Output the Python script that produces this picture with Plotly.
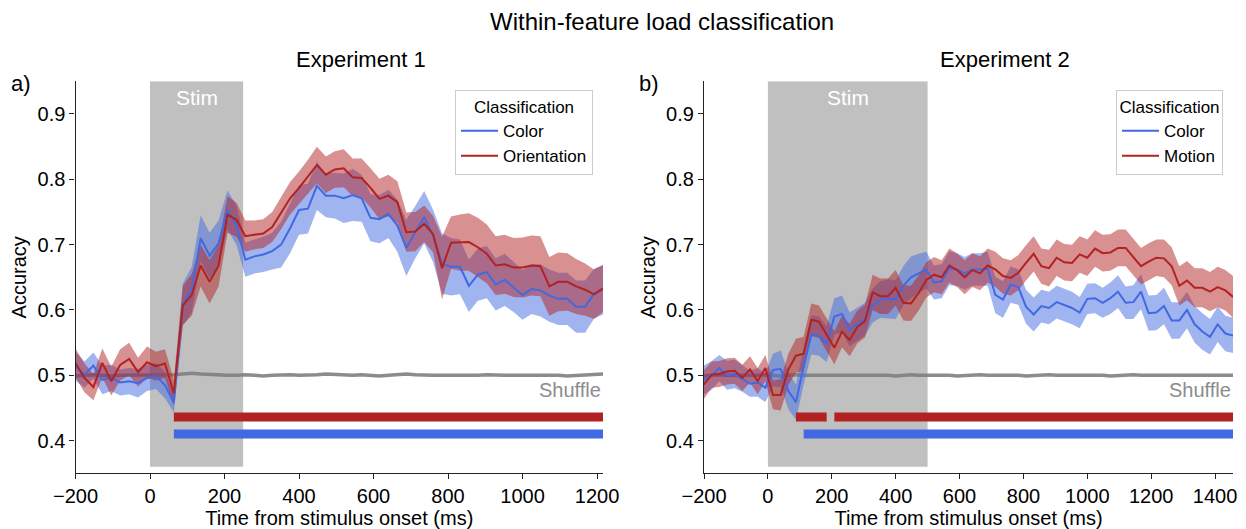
import plotly.graph_objects as go

# ---------------- data ----------------
time_exp1 = list(range(-200, 1217, 24))   # 60 samples
time_exp2 = list(range(-200, 1457, 24))   # 70 samples

exp1_color = [0.514, 0.501, 0.515, 0.493, 0.496, 0.489, 0.491, 0.488, 0.496, 0.499,
              0.485, 0.458, 0.608, 0.631, 0.710, 0.683, 0.702, 0.753, 0.730, 0.677,
              0.682, 0.685, 0.690, 0.700, 0.725, 0.753, 0.755, 0.790, 0.775, 0.775,
              0.771, 0.776, 0.771, 0.741, 0.739, 0.747, 0.729, 0.695, 0.719, 0.742,
              0.713, 0.671, 0.666, 0.666, 0.637, 0.654, 0.658, 0.639, 0.646, 0.635,
              0.623, 0.632, 0.630, 0.622, 0.617, 0.617, 0.605, 0.605, 0.625, 0.631]
exp1_color_err = [0.022, 0.020, 0.020, 0.022, 0.020, 0.020, 0.020, 0.022, 0.020, 0.020,
                  0.020, 0.015, 0.032, 0.035, 0.035, 0.035, 0.035, 0.030, 0.030, 0.026,
                  0.026, 0.027, 0.028, 0.035, 0.038, 0.038, 0.038, 0.037, 0.033, 0.035,
                  0.038, 0.040, 0.036, 0.036, 0.037, 0.037, 0.040, 0.043, 0.040, 0.040,
                  0.040, 0.046, 0.044, 0.042, 0.040, 0.040, 0.040, 0.040, 0.040, 0.038,
                  0.038, 0.038, 0.040, 0.040, 0.040, 0.040, 0.040, 0.040, 0.038, 0.038]

exp1_orient = [0.519, 0.496, 0.482, 0.519, 0.491, 0.516, 0.525, 0.505, 0.520, 0.514,
               0.518, 0.473, 0.607, 0.623, 0.668, 0.643, 0.668, 0.746, 0.738, 0.713,
               0.715, 0.717, 0.727, 0.748, 0.771, 0.787, 0.804, 0.822, 0.807, 0.815,
               0.817, 0.803, 0.802, 0.787, 0.770, 0.775, 0.765, 0.719, 0.720, 0.732,
               0.716, 0.664, 0.703, 0.703, 0.704, 0.696, 0.686, 0.668, 0.670, 0.665,
               0.665, 0.668, 0.667, 0.636, 0.643, 0.643, 0.636, 0.631, 0.624, 0.633]
exp1_orient_err = [0.022, 0.022, 0.020, 0.022, 0.022, 0.024, 0.025, 0.022, 0.024, 0.022,
                   0.022, 0.020, 0.030, 0.032, 0.032, 0.033, 0.032, 0.028, 0.026, 0.024,
                   0.022, 0.022, 0.023, 0.024, 0.025, 0.025, 0.026, 0.028, 0.028, 0.028,
                   0.029, 0.029, 0.030, 0.030, 0.031, 0.032, 0.032, 0.030, 0.030, 0.028,
                   0.028, 0.048, 0.040, 0.043, 0.044, 0.045, 0.045, 0.045, 0.045, 0.045,
                   0.046, 0.046, 0.046, 0.045, 0.045, 0.044, 0.042, 0.040, 0.038, 0.036]

exp1_shuffle = [0.499, 0.500, 0.501, 0.500, 0.499, 0.500, 0.500, 0.501, 0.500, 0.500,
                0.500, 0.501, 0.502, 0.503, 0.502, 0.501, 0.500, 0.500, 0.500, 0.501,
                0.500, 0.499, 0.500, 0.501, 0.501, 0.500, 0.500, 0.501, 0.502, 0.501,
                0.500, 0.500, 0.501, 0.500, 0.499, 0.500, 0.501, 0.502, 0.501, 0.500,
                0.500, 0.500, 0.500, 0.499, 0.500, 0.500, 0.501, 0.500, 0.500, 0.500,
                0.500, 0.501, 0.500, 0.500, 0.500, 0.499, 0.500, 0.500, 0.501, 0.502]

exp2_color = [0.493, 0.500, 0.511, 0.500, 0.502, 0.495, 0.487, 0.489, 0.481, 0.508,
              0.510, 0.476, 0.459, 0.514, 0.562, 0.560, 0.548, 0.590, 0.594, 0.570,
              0.578, 0.586, 0.607, 0.616, 0.617, 0.616, 0.637, 0.650, 0.656, 0.661,
              0.642, 0.644, 0.664, 0.662, 0.656, 0.662, 0.662, 0.663, 0.623, 0.616,
              0.639, 0.635, 0.605, 0.593, 0.606, 0.603, 0.612, 0.608, 0.603, 0.596,
              0.617, 0.618, 0.611, 0.618, 0.628, 0.611, 0.612, 0.628, 0.595, 0.596,
              0.606, 0.584, 0.584, 0.600, 0.578, 0.567, 0.559, 0.578, 0.564, 0.561]
exp2_color_err = [0.022, 0.022, 0.020, 0.022, 0.022, 0.020, 0.020, 0.022, 0.022, 0.025,
                  0.028, 0.028, 0.027, 0.028, 0.030, 0.030, 0.028, 0.028, 0.028, 0.026,
                  0.025, 0.025, 0.026, 0.028, 0.030, 0.030, 0.030, 0.032, 0.030, 0.028,
                  0.026, 0.026, 0.026, 0.025, 0.025, 0.025, 0.025, 0.026, 0.028, 0.028,
                  0.028, 0.027, 0.026, 0.026, 0.025, 0.025, 0.025, 0.025, 0.025, 0.024,
                  0.023, 0.023, 0.023, 0.024, 0.025, 0.025, 0.026, 0.027, 0.027, 0.027,
                  0.028, 0.028, 0.028, 0.028, 0.028, 0.028, 0.027, 0.027, 0.027, 0.027]

exp2_motion = [0.486, 0.501, 0.502, 0.506, 0.507, 0.496, 0.509, 0.491, 0.511, 0.470,
               0.470, 0.509, 0.530, 0.533, 0.585, 0.582, 0.562, 0.542, 0.567, 0.554,
               0.574, 0.583, 0.627, 0.621, 0.621, 0.634, 0.611, 0.610, 0.626, 0.646,
               0.654, 0.650, 0.668, 0.661, 0.650, 0.661, 0.656, 0.668, 0.662, 0.652,
               0.649, 0.657, 0.672, 0.686, 0.667, 0.664, 0.680, 0.673, 0.672, 0.685,
               0.680, 0.694, 0.687, 0.688, 0.695, 0.695, 0.681, 0.667, 0.674, 0.680,
               0.679, 0.667, 0.637, 0.645, 0.634, 0.634, 0.628, 0.635, 0.630, 0.620]
exp2_motion_err = [0.022, 0.020, 0.020, 0.020, 0.020, 0.020, 0.020, 0.020, 0.020, 0.022,
                   0.024, 0.024, 0.026, 0.026, 0.025, 0.025, 0.025, 0.025, 0.024, 0.025,
                   0.025, 0.025, 0.027, 0.027, 0.027, 0.027, 0.027, 0.027, 0.027, 0.027,
                   0.027, 0.026, 0.026, 0.026, 0.026, 0.026, 0.026, 0.026, 0.027, 0.027,
                   0.027, 0.027, 0.027, 0.027, 0.027, 0.028, 0.028, 0.028, 0.028, 0.028,
                   0.028, 0.028, 0.028, 0.028, 0.028, 0.028, 0.028, 0.028, 0.028, 0.028,
                   0.029, 0.029, 0.030, 0.030, 0.030, 0.030, 0.030, 0.031, 0.031, 0.032]

exp2_shuffle = [0.499, 0.500, 0.501, 0.500, 0.500, 0.499, 0.500, 0.500, 0.501, 0.500,
                0.499, 0.500, 0.501, 0.500, 0.500, 0.501, 0.501, 0.500, 0.500, 0.501,
                0.500, 0.500, 0.501, 0.500, 0.500, 0.499, 0.500, 0.501, 0.500, 0.500,
                0.501, 0.500, 0.500, 0.499, 0.500, 0.500, 0.501, 0.500, 0.500, 0.500,
                0.501, 0.500, 0.499, 0.500, 0.500, 0.501, 0.500, 0.500, 0.500, 0.500,
                0.501, 0.500, 0.500, 0.499, 0.500, 0.500, 0.501, 0.500, 0.500, 0.501,
                0.500, 0.500, 0.500, 0.501, 0.500, 0.500, 0.500, 0.501, 0.500, 0.500]

stim_exp1 = [0, 250]
stim_exp2 = [0, 500]

sig_exp1_orient = [(64, 1216)]
sig_exp1_color = [(64, 1216)]
sig_exp2_motion = [(88, 184), (208, 1456)]
sig_exp2_color = [(112, 1456)]
sig_level_red = 0.436
sig_level_blue = 0.410

yticks = [0.4, 0.5, 0.6, 0.7, 0.8, 0.9]
xticks1 = [-200, 0, 200, 400, 600, 800, 1000, 1200]
xticks2 = [-200, 0, 200, 400, 600, 800, 1000, 1200, 1400]

# ---------------- style ----------------
BLUE = "#4169E1"
RED = "#B22222"
BLUE_FILL = "rgba(65,105,225,0.5)"
RED_FILL = "rgba(178,34,34,0.5)"
FONT = "Liberation Sans, Arial, sans-serif"
W, H = 1246, 529


def px_x(p):
    return p / W


def px_y(p):
    return 1 - p / H


fig = go.Figure()


def add_panel(xa, ya, t, c, ce, r, re, shuf, sig_r, sig_b, red_name, legend):
    fig.add_trace(go.Scatter(x=t, y=shuf, mode="lines", line=dict(color="rgba(128,128,128,0.9)", width=3.5),
                             xaxis=xa, yaxis=ya, showlegend=False, hoverinfo="skip"))
    for mean, err, fill in ((c, ce, BLUE_FILL), (r, re, RED_FILL)):
        up = [m + e for m, e in zip(mean, err)]
        lo = [m - e for m, e in zip(mean, err)]
        fig.add_trace(go.Scatter(x=t + t[::-1], y=up + lo[::-1], fill="toself", fillcolor=fill,
                                 line=dict(width=0), mode="lines", xaxis=xa, yaxis=ya,
                                 showlegend=False, hoverinfo="skip"))
    fig.add_trace(go.Scatter(x=t, y=c, mode="lines", line=dict(color=BLUE, width=2), name="Color",
                             xaxis=xa, yaxis=ya, legend=legend))
    fig.add_trace(go.Scatter(x=t, y=r, mode="lines", line=dict(color=RED, width=2), name=red_name,
                             xaxis=xa, yaxis=ya, legend=legend))
    for segs, lvl, col in ((sig_r, sig_level_red, RED), (sig_b, sig_level_blue, BLUE)):
        xs, ys = [], []
        for a, b in segs:
            xs += [a, b, None]
            ys += [lvl, lvl, None]
        fig.add_trace(go.Scatter(x=xs, y=ys, mode="lines", line=dict(color=col, width=9),
                                 xaxis=xa, yaxis=ya, showlegend=False, hoverinfo="skip"))


add_panel("x", "y", time_exp1, exp1_color, exp1_color_err, exp1_orient, exp1_orient_err,
          exp1_shuffle, sig_exp1_orient, sig_exp1_color, "Orientation", "legend")
add_panel("x2", "y2", time_exp2, exp2_color, exp2_color_err, exp2_motion, exp2_motion_err,
          exp2_shuffle, sig_exp2_motion, sig_exp2_color, "Motion", "legend2")

for xr, yr, st in (("x", "y", stim_exp1), ("x2", "y2", stim_exp2)):
    fig.add_shape(type="rect", xref=xr, yref=yr, x0=st[0], x1=st[1], y0=0.36, y1=0.95,
                  fillcolor="#C0C0C0", line=dict(width=0), layer="below")
    fig.add_annotation(xref=xr, yref=yr, x=(st[0] + st[1]) / 2, y=0.925, text="Stim", showarrow=False,
                       xanchor="center", yanchor="middle",
                       font=dict(family=FONT, size=21, color="white"))

fig.add_annotation(xref="x", yref="y", x=time_exp1[-1], y=0.478, text="Shuffle", showarrow=False,
                   xanchor="right", yanchor="middle", font=dict(family=FONT, size=20, color="#8c8c8c"))
fig.add_annotation(xref="x2", yref="y2", x=time_exp2[-1], y=0.478, text="Shuffle", showarrow=False,
                   xanchor="right", yanchor="middle", font=dict(family=FONT, size=20, color="#8c8c8c"))

axis_common = dict(showline=True, linecolor="#222222", linewidth=1.2, ticks="outside", ticklen=5,
                   tickwidth=1.2, tickcolor="#222222", showgrid=False, zeroline=False, automargin=False,
                   tickfont=dict(family=FONT, size=20, color="black"))

y_dom = [px_y(473.3), px_y(81.3)]
fig.update_layout(
    width=W, height=H, margin=dict(l=0, r=0, t=0, b=0, autoexpand=False),
    paper_bgcolor="white", plot_bgcolor="white",
    xaxis=dict(domain=[px_x(75.5), px_x(603)], range=[-200, 1216], tickvals=xticks1, anchor="y",
               title=dict(text="Time from stimulus onset (ms)", standoff=5,
                          font=dict(family=FONT, size=20, color="black")), **axis_common),
    yaxis=dict(domain=y_dom, range=[0.35, 0.95], tickvals=yticks, tickformat=".1f", anchor="x",
               title=dict(text="Accuracy", standoff=5, font=dict(family=FONT, size=20, color="black")),
               **axis_common),
    xaxis2=dict(domain=[px_x(704), px_x(1233)], range=[-200, 1456], tickvals=xticks2, anchor="y2",
                title=dict(text="Time from stimulus onset (ms)", standoff=5,
                           font=dict(family=FONT, size=20, color="black")), **axis_common),
    yaxis2=dict(domain=y_dom, range=[0.35, 0.95], tickvals=yticks, tickformat=".1f", anchor="x2",
                title=dict(text="Accuracy", standoff=5, font=dict(family=FONT, size=20, color="black")),
                **axis_common),
    legend=dict(x=px_x(593), y=px_y(90), xanchor="right", yanchor="top", bgcolor="white",
                bordercolor="#cccccc", borderwidth=1, font=dict(family=FONT, size=17, color="black"),
                title=dict(text="Classification", side="top center", font=dict(family=FONT, size=17)),
                itemwidth=37, traceorder="normal"),
    legend2=dict(x=px_x(1223), y=px_y(90), xanchor="right", yanchor="top", bgcolor="white",
                 bordercolor="#cccccc", borderwidth=1, font=dict(family=FONT, size=17, color="black"),
                 title=dict(text="Classification", side="top center", font=dict(family=FONT, size=17)),
                 itemwidth=37, traceorder="normal"),
    showlegend=True,
)

fig.add_annotation(xref="paper", yref="paper", x=px_x(662), y=px_y(22), text="Within-feature load classification",
                   showarrow=False, xanchor="center", yanchor="middle",
                   font=dict(family=FONT, size=24, color="black"))
fig.add_annotation(xref="paper", yref="paper", x=px_x(361), y=px_y(60), text="Experiment 1",
                   showarrow=False, xanchor="center", yanchor="middle",
                   font=dict(family=FONT, size=22, color="black"))
fig.add_annotation(xref="paper", yref="paper", x=px_x(1005), y=px_y(60), text="Experiment 2",
                   showarrow=False, xanchor="center", yanchor="middle",
                   font=dict(family=FONT, size=22, color="black"))
fig.add_annotation(xref="paper", yref="paper", x=px_x(9), y=px_y(84), text="a)", xanchor="left",
                   yanchor="middle", showarrow=False, font=dict(family=FONT, size=22, color="black"))
fig.add_annotation(xref="paper", yref="paper", x=px_x(637), y=px_y(84), text="b)", xanchor="left",
                   yanchor="middle", showarrow=False, font=dict(family=FONT, size=22, color="black"))

fig.write_html("out.html")
